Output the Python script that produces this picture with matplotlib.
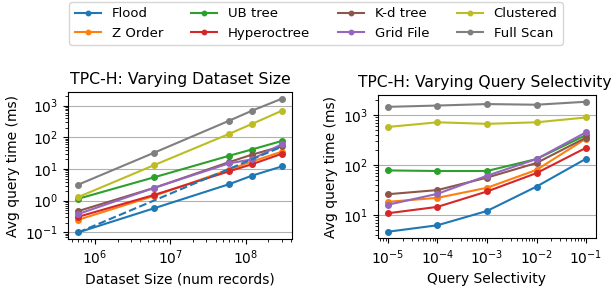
import matplotlib
matplotlib.use("Agg")
import matplotlib.pyplot as plt

methods = ["Flood", "Z Order", "UB tree", "Hyperoctree",
           "K-d tree", "Grid File", "Clustered", "Full Scan"]
colors = ["C0", "C1", "C2", "C3", "C5", "C4", "C8", "C7"]

# left: varying dataset size
sizes = [6e5, 6e6, 6e7, 1.2e8, 3e8]
size_times = {
    "Flood":       [0.1, 0.57, 3.3, 6.1, 12],
    "Z Order":     [0.25, 1.4, 9.5, 17, 35],
    "UB tree":     [1.15, 5.4, 26, 41, 76],
    "Hyperoctree": [0.31, 1.5, 8.4, 14, 30],
    "K-d tree":    [0.47, 2.5, 16.4, 28, 52],
    "Grid File":   [0.38, 2.5, 15, 20, 60],
    "Clustered":   [1.3, 13, 127, 260, 680],
    "Full Scan":   [3.2, 32, 330, 680, 1630],
}
# linear scaling reference from the smallest Flood point
ref_sizes = [6e5, 3e8]
ref_times = [0.1, 50]

# right: varying query selectivity
selectivity = [1e-5, 1e-4, 1e-3, 1e-2, 1e-1]
sel_times = {
    "Flood":       [4.6, 6.2, 12, 37, 134],
    "Z Order":     [18.3, 22, 35, 80, 340],
    "UB tree":     [78, 76, 76, 132, 400],
    "Hyperoctree": [10.8, 14.5, 29.5, 69, 222],
    "K-d tree":    [26, 31.5, 56, 110, 355],
    "Grid File":   [16, 26.5, 61, 132, 455],
    "Clustered":   [580, 720, 670, 720, 900],
    "Full Scan":   [1470, 1560, 1670, 1620, 1860],
}

fig = plt.figure(figsize=(6.15, 2.86), dpi=100)
ax1 = fig.add_axes([0.1106, 0.164, 0.364, 0.514])
ax2 = fig.add_axes([0.6146, 0.167, 0.3545, 0.500])

handles = []
for m, c in zip(methods, colors):
    h, = ax1.plot(sizes, size_times[m], marker="o", markersize=4, color=c, label=m)
    ax2.plot(selectivity, sel_times[m], marker="o", markersize=4, color=c)
    handles.append(h)
ax1.plot(ref_sizes, ref_times, linestyle="--", color="C0")

for ax in (ax1, ax2):
    ax.set_xscale("log")
    ax.set_yscale("log")
    ax.yaxis.grid(True, which="major", color="#b0b0b0")
    ax.set_ylabel("Avg query time (ms)", fontsize=10)
    ax.tick_params(labelsize=10)

ax1.set_title("TPC-H: Varying Dataset Size", fontsize=11.3)
ax1.set_xlabel("Dataset Size (num records)", fontsize=10)
ax2.set_title("TPC-H: Varying Query Selectivity", fontsize=11.2, x=0.49)
ax2.set_xlabel("Query Selectivity", fontsize=10)

fig.legend(handles, methods, loc="upper center", bbox_to_anchor=(0.514, 1.0),
           ncol=4, fontsize=9.5, columnspacing=2.1, labelspacing=0.5,
           handlelength=2.0, borderpad=0.4, borderaxespad=0.15, markerscale=0.8)

fig.savefig("out.png", dpi=100)
